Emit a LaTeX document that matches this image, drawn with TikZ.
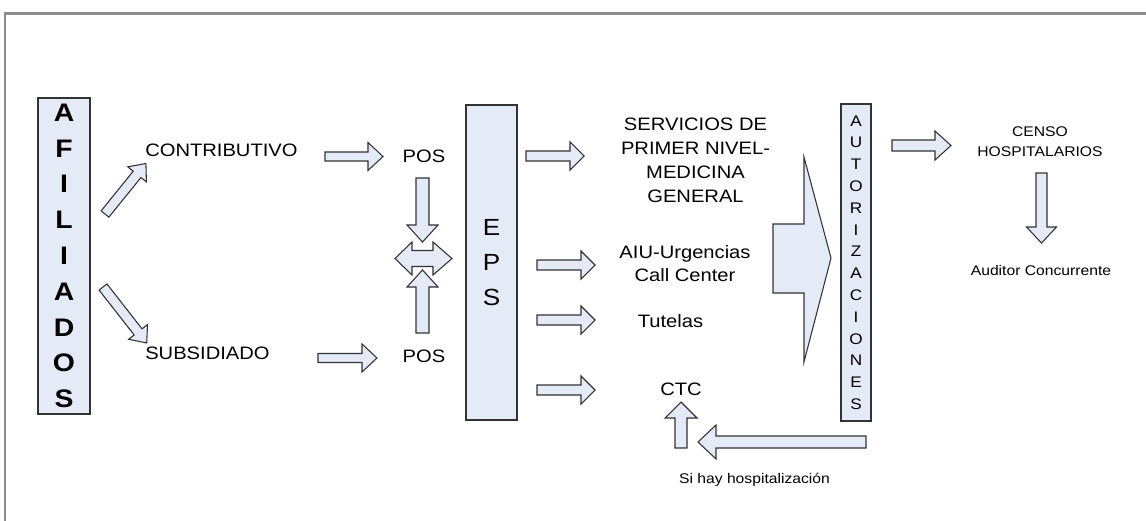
\documentclass[tikz,border=0pt]{standalone}
\usepackage{fontspec}
\setmainfont{Liberation Sans}[FakeStretch=1.12]
\definecolor{boxfill}{RGB}{228,234,246}
\definecolor{framegray}{RGB}{140,140,140}
\tikzset{
  arrowshape/.style={draw=black!80, fill=boxfill, line width=0.8pt, line join=miter},
  bar/.style={draw=black!80, fill=boxfill, line width=1.1pt, inner sep=0pt, align=center},
  lbl/.style={inner sep=0pt, font=\fontsize{13.5}{18}\selectfont, align=center},
  small/.style={inner sep=0pt, font=\fontsize{10.5}{15}\selectfont, align=center},
  frameline/.style={draw=framegray, line width=2.2pt},
}
% x, y, angle, length, shaft half width, head half width, head length
\newcommand{\blockarr}[7]{%
  \draw[arrowshape, shift={(#1,#2)}, rotate=#3]
    (0,-#5) -- ({#4-#7},-#5) -- ({#4-#7},-#6) -- (#4,0) -- ({#4-#7},#6)
    -- ({#4-#7},#5) -- (0,#5) -- cycle;}
\begin{document}
\begin{tikzpicture}[x=0.75pt,y=-0.75pt]
\useasboundingbox (0,0) rectangle (1146,521);
\clip (0,0) rectangle (1146,521);
\draw[frameline] (5,540) -- (5,13.5) -- (1170,13.5);

% vertical bars
\node[bar, minimum width=39pt, minimum height=237pt,
      font=\fontsize{19}{26.85}\selectfont\bfseries] (afil) at (64,256)
      {A\\F\\I\\L\\I\\A\\D\\O\\S};
\node[bar, minimum width=38.25pt, minimum height=236.25pt,
      font=\fontsize{17.5}{26.25}\selectfont] (eps) at (491.5,262.5)
      {E\\P\\S};
\node[bar, minimum width=22.5pt, minimum height=237.75pt,
      font=\fontsize{11.5}{16.35}\selectfont] (aut) at (856,262.5)
      {A\\U\\T\\O\\R\\I\\Z\\A\\C\\I\\O\\N\\E\\S};

% labels
\node[lbl, anchor=base west] (contrib) at (145,156) {CONTRIBUTIVO};
\node[lbl, anchor=base west] (subsid) at (145,359.3) {SUBSIDIADO};
\node[lbl, anchor=base] (pos1) at (424,162) {POS};
\node[lbl, anchor=base] (pos2) at (424,362) {POS};
\node[lbl] (serv) at (695.5,160.8) {SERVICIOS DE\\PRIMER NIVEL-\\MEDICINA\\GENERAL};
\node[lbl, font=\fontsize{13.5}{17.6}\selectfont] (aiu) at (685,263.4) {AIU-Urgencias\\Call Center};
\node[lbl, anchor=base] (tut) at (670.5,327) {Tutelas};
\node[lbl, anchor=base] (ctc) at (681,395) {CTC};
\node[small] (censo) at (1040,142) {CENSO\\HOSPITALARIOS};
\node[small, anchor=base] (audit) at (1041,275) {Auditor Concurrente};
\node[small, anchor=base] (sihay) at (754.5,483) {Si hay hospitalizaci\'on};

% block arrows
\blockarr{105}{214}{51}{65}{5}{12}{14}
\blockarr{103}{287}{-52}{71}{5}{12}{14}
\blockarr{325}{156.5}{0}{58}{4.5}{14}{15}
\blockarr{318}{358}{0}{59}{4.5}{14}{15}
% double arrow between POS
\draw[arrowshape] (395,258.5) -- (412,242) -- (412,250.5) -- (433,250.5) -- (433,242)
  -- (452,258.5) -- (433,275) -- (433,266.5) -- (412,266.5) -- (412,275) -- cycle;
\blockarr{422.5}{178}{-90}{64}{6.5}{15.5}{17}
\blockarr{422.5}{333}{90}{63}{6.5}{15.5}{17}
% arrows from EPS
\blockarr{526}{156}{0}{58}{5}{14}{14}
\blockarr{537}{265}{0}{58}{5}{14}{14}
\blockarr{537}{320}{0}{58}{5}{14}{14}
\blockarr{537}{390}{0}{58}{5}{14}{14}
% big arrow to AUTORIZACIONES
\draw[arrowshape] (773,224) -- (804,224) -- (804,157) -- (831,258) -- (804,362)
  -- (804,293) -- (773,293) -- cycle;
% right side
\blockarr{892}{145.5}{0}{59}{5.5}{14.5}{16}
\blockarr{1041.5}{173}{-90}{70}{5.5}{15}{16}
\blockarr{866}{442}{180}{168}{6}{17}{18}
\blockarr{681}{448}{90}{46}{6}{16}{16}
\end{tikzpicture}
\end{document}
